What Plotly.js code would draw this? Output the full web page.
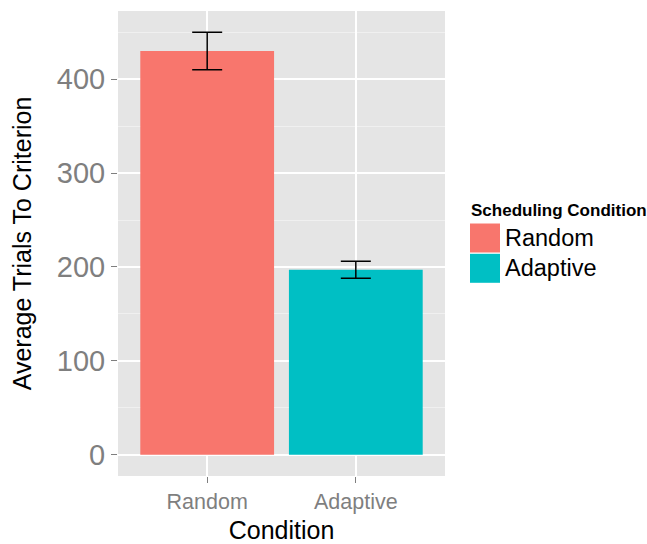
<!DOCTYPE html>
<html>
<head>
<meta charset="utf-8">
<script src="https://cdn.plot.ly/plotly-3.0.1.min.js"></script>
<style>
  html, body { margin: 0; padding: 0; background: #ffffff; }
  #chart { width: 647px; height: 544px; }
</style>
</head>
<body>
<div id="chart"></div>
<script>
// Mean trials to criterion per scheduling condition, with standard error
const conditions = ["Random", "Adaptive"];
const meanTrials = [430, 197];
const stdError = [20, 9];
const fillColors = ["#F8766D", "#00BFC4"];

const yTickVals = [0, 100, 200, 300, 400];

const W = 647, H = 544;
const margin = { l: 118, r: 202, t: 11, b: 68 };
const plotW = W - margin.l - margin.r;
const plotH = H - margin.t - margin.b;
// pixel -> paper coordinates for the hand-drawn legend
const px = x => (x - margin.l) / plotW;
const py = y => (H - margin.b - y) / plotH;

// ggplot-style expansion of the value axis (5% each side)
const yMax = Math.max(...meanTrials.map((m, i) => m + stdError[i]));
const yRange = [-0.05 * yMax, yMax * 1.05];

const font = "Liberation Sans, Arial, Helvetica, sans-serif";

const bars = {
  type: "bar",
  x: conditions,
  y: meanTrials,
  width: 0.9,
  marker: { color: fillColors, line: { width: 0 } },
  error_y: {
    type: "data",
    array: stdError,
    visible: true,
    color: "#000000",
    thickness: 1.5,
    width: 15
  },
  showlegend: false,
  hoverinfo: "x+y"
};

const shapes = [];
const annotations = [];

annotations.push({
  xref: "paper", yref: "paper",
  x: px(469), y: py(211),
  xanchor: "left", yanchor: "middle",
  text: "<b>Scheduling Condition</b>",
  showarrow: false,
  font: { family: font, size: 17, color: "#000000" }
});

conditions.forEach((c, i) => {
  const top = 223.5 + i * 30.3;
  shapes.push({
    type: "rect", xref: "paper", yref: "paper",
    x0: px(470), x1: px(500), y0: py(top), y1: py(top + 29),
    fillcolor: fillColors[i], line: { width: 0 }
  });
  annotations.push({
    xref: "paper", yref: "paper",
    x: px(503), y: py(top + 14.5),
    xanchor: "left", yanchor: "middle",
    text: c, showarrow: false,
    font: { family: font, size: 23.5, color: "#000000" }
  });
});

const layout = {
  width: W, height: H,
  margin: margin,
  paper_bgcolor: "#ffffff",
  plot_bgcolor: "#E5E5E5",
  font: { family: font },
  showlegend: false,
  bargap: 0.1,
  xaxis: {
    type: "category",
    range: [-0.6, 1.6],
    showgrid: true,
    gridcolor: "#ffffff",
    gridwidth: 1.5,
    zeroline: false,
    showline: false,
    ticks: "outside",
    ticklen: 6,
    tickwidth: 1,
    tickcolor: "#7F7F7F",
    tickfont: { family: font, size: 21.5, color: "#7F7F7F" },
    title: { text: "Condition", font: { family: font, size: 25, color: "#000000" }, standoff: 16 },
    automargin: false,
    fixedrange: true
  },
  yaxis: {
    range: yRange,
    tickvals: yTickVals,
    ticktext: yTickVals.map(String),
    showgrid: true,
    gridcolor: "#ffffff",
    gridwidth: 1.5,
    minor: { dtick: 50, tick0: 0, showgrid: true, gridcolor: "#F2F2F2", gridwidth: 0.8, ticks: "" },
    zeroline: false,
    showline: false,
    ticks: "outside",
    ticklen: 6,
    tickwidth: 1,
    tickcolor: "#7F7F7F",
    tickfont: { family: font, size: 29, color: "#7F7F7F" },
    title: { text: "Average Trials To Criterion", font: { family: font, size: 25, color: "#000000" }, standoff: 18 },
    automargin: false,
    fixedrange: true
  },
  shapes: shapes,
  annotations: annotations
};

Plotly.newPlot("chart", [bars], layout, { displayModeBar: false, staticPlot: true });
</script>
</body>
</html>
